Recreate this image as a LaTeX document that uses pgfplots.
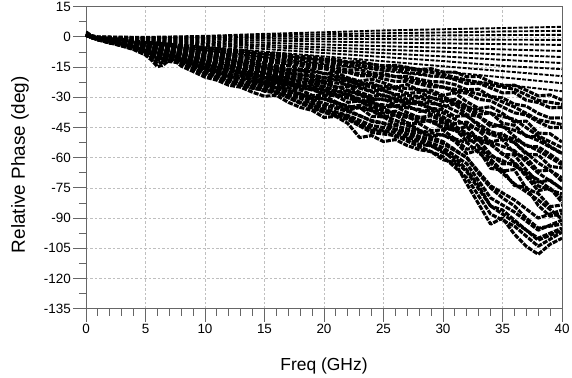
\documentclass[border=0pt]{standalone}
\usepackage{pgfplots}
\pgfplotsset{compat=1.18}
\usepackage{pgfplotstable}
\usepackage{fontspec}
\setmainfont{Liberation Sans}

\pgfplotstableread{
x u1 u2 u3 u4 u5 u6 u7 u8 u9 u10 u11 u12
0 1.5 1.2 1.0 1.0 0.8 0.8 0.6 0.6 0.5 0.5 0.4 0.4
1 0.3 0.2 0 -0.1 -0.2 -0.3 -0.3 -0.4 -0.4 -0.5 -0.5 -0.6
5 0 -0.2 -0.4 -0.6 -0.8 -1.1 -1.4 -1.7 -2.0 -2.4 -2.8 -3.3
10 0.5 0.2 -0.3 -0.8 -1.3 -2.0 -2.7 -3.3 -4.0 -4.8 -5.7 -6.7
15 1.5 0.8 0 -0.9 -1.8 -2.9 -4.0 -4.9 -6.0 -7.3 -8.6 -10.1
20 2.3 1.3 0.3 -1.0 -2.3 -3.8 -5.2 -6.5 -8.0 -9.7 -11.5 -13.5
25 3.2 1.8 0.5 -1.1 -2.8 -4.6 -6.4 -8.1 -10.0 -12.1 -14.0 -16.8
30 3.8 2.2 0.7 -1.3 -3.2 -5.4 -7.3 -9.7 -12.0 -14.6 -17.2 -20.2
35 4.4 2.7 0.9 -1.4 -3.6 -6.2 -8.8 -11.4 -14.4 -17.0 -20.1 -23.6
40 5.0 3.0 1.0 -1.5 -4.0 -7.0 -10.0 -13.0 -16.0 -19.5 -23.0 -27.0
}\uptab

\pgfplotstableread{
x l1 l2 l3 l4 l5 l6 l7 l8 l9 l10 l11 l12 l13
0 1.2 1.0 1.4 0.8 1.1 0.9 1.3 0.7 1.0 1.2 0.8 1.5 1.0
0.5 0 -0.2 0.1 -0.3 -0.1 -0.4 0 -0.3 -0.2 -0.5 -0.1 -0.4 -0.3
1 -0.4 -0.5 -0.6 -0.8 -0.5 -0.6 -0.6 -1.2 -1.4 -1.4 -1.0 -1.4 -1.3
2 -0.9 -1.2 -1.3 -1.3 -1.6 -1.7 -2.0 -1.7 -1.8 -1.9 -2.7 -3.0 -3.1
3 -1.3 -1.5 -1.7 -2.2 -2.6 -2.7 -2.6 -3.1 -3.2 -3.6 -3.2 -3.5 -3.6
4 -2.0 -2.3 -2.8 -2.9 -3.0 -3.3 -4.2 -4.6 -4.9 -4.7 -5.4 -5.5 -6.1
5 -2.7 -3.2 -3.4 -4.0 -4.2 -4.9 -4.9 -5.4 -5.6 -6.7 -7.3 -7.7 -7.5
6 -3.0 -3.4 -4.2 -4.8 -5.4 -5.5 -6.2 -6.5 -7.3 -7.2 -7.8 -8.1 -9.3
7 -3.6 -4.2 -4.6 -5.0 -5.5 -6.6 -7.3 -7.9 -8.0 -8.8 -9.2 -10.1 -9.9
8 -4.3 -4.8 -5.5 -6.2 -7.0 -7.3 -8.0 -8.5 -9.8 -10.7 -11.2 -11.4 -12.4
9 -4.6 -5.7 -6.6 -7.3 -7.8 -8.8 -9.5 -10.4 -10.7 -11.5 -12.1 -13.6 -14.4
10 -5.5 -6.0 -7.0 -7.8 -9.1 -10.1 -11.0 -11.4 -12.5 -13.2 -14.4 -14.7 -15.4
11 -5.8 -6.9 -7.7 -9.0 -9.1 -10.1 -10.9 -12.9 -14.2 -15.0 -15.0 -16.6 -17.0
12 -6.7 -7.9 -8.9 -9.5 -10.9 -11.7 -13.1 -13.3 -14.4 -15.2 -17.5 -18.9 -19.6
13 -6.7 -7.9 -8.8 -10.6 -12.1 -13.1 -13.4 -15.1 -15.9 -17.5 -17.4 -18.7 -19.3
14 -7.5 -8.6 -10.0 -10.7 -11.7 -12.7 -15.0 -16.4 -17.6 -17.8 -19.7 -20.5 -22.1
15 -8.4 -9.6 -10.6 -12.1 -13.2 -14.9 -15.3 -16.7 -17.7 -20.3 -21.9 -23.1 -22.9
16 -8.2 -9.6 -11.5 -13.0 -14.5 -15.1 -17.0 -18.1 -19.8 -20.2 -21.6 -22.7 -25.4
17 -9.0 -10.6 -11.6 -13.1 -14.1 -16.6 -18.3 -19.6 -20.3 -22.2 -23.4 -25.3 -25.2
18 -9.9 -11.1 -12.8 -14.3 -16.1 -16.8 -18.4 -19.8 -22.4 -24.3 -25.8 -26.3 -28.2
19 -9.8 -12.1 -13.8 -15.5 -16.5 -18.7 -20.0 -22.1 -22.7 -24.5 -25.8 -29.0 -30.6
20 -11.0 -12.3 -14.1 -15.8 -18.3 -20.2 -21.9 -22.8 -25.1 -26.5 -28.8 -29.3 -30.8
21 -11.2 -13.5 -15.1 -17.3 -17.8 -19.8 -21.3 -25.1 -27.4 -29.2 -29.3 -32.3 -33.0
22 -12.5 -14.5 -16.5 -17.6 -20.3 -21.6 -24.3 -24.6 -26.8 -28.1 -32.5 -35.0 -36.4
23 -12.2 -14.4 -16.2 -19.3 -22.0 -23.9 -24.5 -27.5 -28.9 -31.9 -31.8 -34.0 -35.0
24 -13.5 -15.4 -17.9 -19.3 -21.0 -22.8 -26.9 -29.5 -31.4 -32.1 -35.3 -36.7 -39.5
25 -14.5 -16.6 -18.2 -20.9 -22.8 -25.7 -26.4 -28.8 -30.7 -35.1 -37.9 -40.0 -39.7
26 -14.1 -16.3 -19.7 -22.1 -24.9 -25.8 -29.1 -30.8 -34.0 -34.4 -36.9 -38.6 -43.4
27 -15.1 -17.9 -19.6 -22.0 -23.7 -28.1 -31.0 -33.2 -34.2 -37.6 -39.5 -42.9 -42.5
28 -16.3 -18.1 -21.1 -23.4 -26.5 -27.5 -30.2 -32.4 -37.0 -40.1 -42.5 -43.1 -46.4
29 -15.8 -19.5 -22.2 -24.8 -26.5 -30.1 -32.1 -35.5 -36.4 -39.2 -41.3 -46.6 -49.3
30 -17.5 -19.5 -22.4 -24.9 -29.0 -32.2 -34.8 -36.1 -39.8 -42.0 -45.7 -46.2 -48.6
31 -17.5 -21.2 -23.7 -27.2 -27.8 -31.0 -33.3 -39.5 -43.2 -45.9 -45.8 -50.7 -51.8
32 -19.8 -23.2 -26.2 -28.0 -32.2 -34.4 -38.7 -39.1 -42.3 -44.6 -51.8 -55.8 -58.0
33 -19.6 -23.0 -26.0 -31.0 -35.5 -38.5 -39.4 -44.2 -46.6 -51.3 -51.2 -54.7 -56.2
34 -22.3 -25.4 -29.6 -31.8 -34.7 -37.7 -44.5 -48.7 -52.1 -52.9 -58.3 -60.7 -65.3
35 -24.2 -27.8 -30.3 -34.8 -38.0 -42.9 -44.0 -48.0 -51.0 -58.4 -63.1 -66.6 -66.2
36 -24.0 -27.7 -33.4 -37.7 -42.3 -43.9 -49.4 -52.5 -57.8 -58.6 -62.8 -65.9 -73.8
37 -26.5 -31.5 -34.4 -38.8 -41.8 -49.4 -54.3 -58.3 -60.1 -66.1 -69.3 -75.3 -74.7
38 -29.3 -32.6 -38.0 -42.2 -47.8 -49.7 -54.6 -58.6 -66.6 -72.1 -76.4 -77.8 -83.7
39 -28.8 -35.2 -40.3 -45.0 -48.1 -54.4 -58.3 -64.3 -66.2 -71.2 -75.1 -84.3 -89.1
40 -31.4 -35.1 -40.2 -45.0 -52.2 -57.8 -62.5 -65.1 -71.7 -75.6 -82.2 -83.5 -87.8
}\lowtab

\pgfplotstableread{
x m1 m2 m3 m4 m5 m6 m7 m8
0 1.0 1.2 0.9 1.1 1.3 0.8 1.4 1.6
0.5 -0.2 0 -0.3 -0.1 -0.4 -0.2 0.1 0
2 -1.0 -1.3 -1.6 -1.9 -2.2 -2.4 -2.6 -2.8
4 -2.2 -2.8 -3.5 -4.1 -4.8 -5.2 -5.7 -6.0
6 -3.4 -4.4 -5.4 -6.4 -7.4 -8.0 -8.8 -11.5
8 -4.5 -5.9 -7.2 -8.6 -9.9 -10.8 -11.9 -13.0
10 -5.9 -7.6 -9.4 -11.1 -12.9 -14.0 -15.4 -18.5
12 -7.0 -9.1 -11.2 -13.9 -15.4 -16.8 -18.5 -22.5
14 -8.0 -10.9 -12.8 -15.2 -18.4 -19.2 -21.1 -25.5
16 -9.2 -12.0 -15.4 -17.5 -20.2 -23.0 -24.2 -27.5
18 -10.4 -13.0 -16.6 -20.5 -22.8 -24.8 -28.5 -33.0
20 -11.3 -15.2 -18.0 -22.2 -24.6 -28.0 -30.8 -37.5
22 -13.1 -17.6 -20.9 -23.6 -28.7 -30.0 -34.3 -41.0
24 -14.9 -18.7 -24.1 -27.3 -33.0 -34.4 -36.5 -47.5
26 -15.7 -19.7 -25.1 -31.0 -34.5 -39.2 -41.4 -49.0
28 -16.6 -22.2 -26.2 -32.4 -36.0 -40.8 -46.5 -54.5
30 -18.6 -25.0 -29.7 -33.8 -40.8 -42.8 -48.8 -59.5
32 -21.5 -27.0 -34.8 -39.4 -47.8 -49.6 -52.5 -70.0
34 -23.8 -29.8 -38.0 -47.0 -52.2 -59.0 -62.5 -88.0
36 -26.0 -34.8 -41.0 -50.8 -56.5 -64.0 -73.0 -94.0
38 -31.5 -41.2 -49.2 -56.5 -67.6 -71.0 -81.0 -104.0
40 -33.5 -43.5 -55.0 -63.5 -75.5 -80.0 -90.5 -97.0
}\midtab

\pgfplotstableread{
x n1 n2 n3 n4 n5 n6
0 1.1 0.9 1.2 1.0 1.4 0.8
0.5 -0.2 -0.3 0 -0.4 -0.1 -0.3
2 -1.7 -2.0 -2.3 -2.6 -2.8 -2.7
4 -3.8 -4.4 -5.1 -5.4 -5.9 -5.6
6 -5.8 -6.8 -7.8 -9.0 -10.0 -9.5
8 -7.8 -9.2 -10.5 -11.5 -12.5 -12.0
10 -10.2 -11.9 -13.7 -16.5 -18.0 -17.0
12 -12.2 -14.3 -16.4 -20.0 -22.0 -21.0
14 -13.9 -16.3 -19.5 -23.5 -25.5 -24.0
16 -16.0 -19.5 -21.5 -25.5 -27.5 -27.0
18 -18.8 -21.1 -24.2 -29.5 -32.5 -30.5
20 -20.3 -23.0 -26.5 -34.0 -37.0 -35.5
22 -22.0 -26.5 -30.4 -37.0 -40.5 -39.0
24 -24.9 -30.5 -33.5 -41.5 -45.5 -44.0
26 -28.5 -32.0 -38.0 -44.0 -47.5 -46.0
28 -29.6 -33.5 -39.8 -47.5 -52.0 -50.5
30 -31.0 -37.7 -44.8 -52.0 -56.5 -55.0
32 -36.0 -44.0 -48.4 -60.0 -67.0 -63.0
34 -43.0 -48.3 -53.5 -74.0 -84.0 -80.0
36 -46.4 -52.5 -62.4 -81.0 -92.0 -87.0
38 -51.5 -62.6 -74.0 -90.0 -100.0 -96.0
40 -58.0 -70.0 -78.0 -86.0 -95.0 -91.0
}\moretab

\pgfplotstableread{
x d1 d2 d3
0 2.5 1.8 1.2
0.5 0.5 0.2 -0.2
1 -1.0 -1.2 -1.5
2 -2.2 -2.5 -3.0
3 -3.3 -3.8 -4.5
4 -4.8 -5.5 -6.3
5 -6.8 -7.8 -9.0
5.5 -8.5 -10.0 -11.5
6 -11.0 -13.2 -14.8
6.5 -10.8 -12.6 -14.0
7 -9.0 -10.2 -11.5
7.5 -9.5 -10.8 -12.0
8 -11.5 -13.0 -14.5
9 -13.5 -15.5 -17.2
10 -16.0 -18.0 -20.0
11 -17.5 -20.0 -21.5
12 -19.8 -21.8 -24.0
13 -20.5 -23.5 -25.0
14 -22.8 -24.5 -27.5
15 -24.0 -27.0 -29.5
16 -25.5 -27.8 -29.0
17 -27.0 -29.5 -32.5
18 -28.5 -32.5 -35.0
19 -31.0 -33.5 -36.5
20 -33.0 -36.5 -40.0
21 -34.5 -38.0 -39.5
22 -36.5 -39.5 -43.0
23 -39.0 -44.0 -50.0
24 -42.0 -46.5 -49.0
25 -43.0 -47.0 -52.0
26 -46.0 -49.5 -51.0
27 -46.5 -50.5 -54.0
28 -49.5 -53.5 -56.0
29 -51.0 -54.0 -57.0
30 -53.0 -57.5 -61.0
31 -56.5 -60.0 -62.5
32 -60.0 -66.0 -73.0
33 -68.0 -74.0 -83.0
34 -75.0 -84.0 -93.0
35 -80.0 -86.0 -90.0
36 -84.0 -91.0 -98.0
37 -90.0 -96.0 -104.0
38 -95.0 -101.0 -108.0
39 -94.0 -98.5 -103.0
40 -93.0 -96.0 -100.0
}\deeptab

\pgfplotsset{
  curve/.style={black, line width=1.9pt, dash pattern=on 4pt off 1.5pt, line join=round, no markers},
  thick curve/.style={black, line width=3.1pt, dash pattern=on 5pt off 1.2pt, line join=round, no markers},
}

\begin{document}
\begin{tikzpicture}
\begin{axis}[
  scale only axis,
  width=476bp, height=302bp,
  xmin=0, xmax=40, ymin=-135, ymax=15,
  xtick={0,5,10,15,20,25,30,35,40},
  xticklabels={0,5,10,15,20,25,30,35,40},
  ytick={-135,-120,-105,-90,-75,-60,-45,-30,-15,0,15},
  yticklabels={-135,-120,-105,-90,-75,-60,-45,-30,-15,0,15},
  minor x tick num=4, minor y tick num=1,
  tick pos=left,
  tick align=outside,
  major tick length=13bp, minor tick length=7bp,
  tick style={color=black!60, line width=0.9pt},
  axis line style={black!60, line width=1pt},
  grid=major,
  major grid style={black!25, dash pattern=on 2.5pt off 2pt, line width=0.6pt},
  ticklabel style={font=\fontsize{13.5}{16}\selectfont},
  xticklabel style={inner sep=2bp},
  yticklabel style={inner sep=2bp},
  xlabel={Freq (GHz)},
  ylabel={Relative Phase (deg)},
  xlabel style={font=\fontsize{17.5}{20}\selectfont, at={(axis description cs:0.5,0)}, anchor=base, yshift=-62bp},
  ylabel style={font=\fontsize{19}{22}\selectfont, at={(axis description cs:0,0.477)}, anchor=base, yshift=61bp},
]
\pgfplotsinvokeforeach{1,...,12}{\addplot[curve] table[x=x, y=u#1]{\uptab};}
\pgfplotsinvokeforeach{1,...,13}{\addplot[thick curve] table[x=x, y=l#1]{\lowtab};}
\pgfplotsinvokeforeach{1,...,8}{\addplot[thick curve] table[x=x, y=m#1]{\midtab};}
\pgfplotsinvokeforeach{1,...,6}{\addplot[thick curve] table[x=x, y=n#1]{\moretab};}
\pgfplotsinvokeforeach{1,2,3}{\addplot[thick curve] table[x=x, y=d#1]{\deeptab};}
\end{axis}
\path ([xshift=-86bp,yshift=-66bp]current axis.south west) rectangle ([xshift=10bp,yshift=6bp]current axis.north east);
\end{tikzpicture}
\end{document}
